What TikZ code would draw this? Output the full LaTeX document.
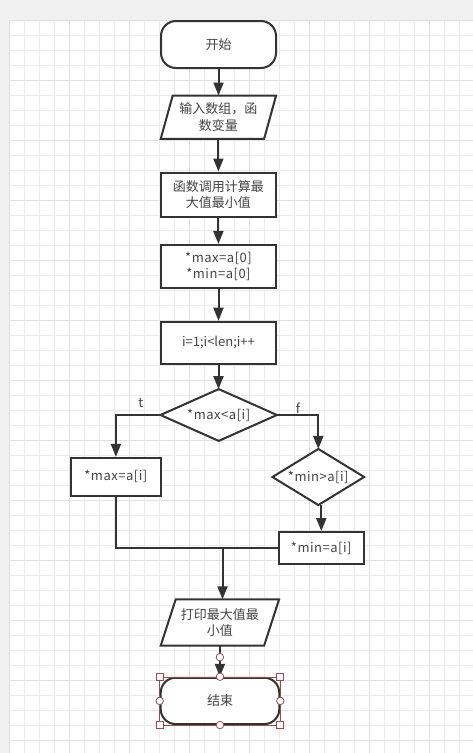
\documentclass[tikz,border=0pt]{standalone}
\usepackage{fontspec}
\setmainfont{Noto Sans CJK SC}
\newfontfamily\latn[LetterSpace=4]{Noto Sans CJK SC}
\usetikzlibrary{arrows.meta,calc}
\definecolor{ln}{HTML}{333333}
\definecolor{tx}{HTML}{444444}
\definecolor{bggray}{HTML}{F0F0F0}
\definecolor{gridminor}{HTML}{EBEBEB}
\definecolor{gridmajor}{HTML}{E0E0E0}
\definecolor{hdl}{HTML}{9E4A4A}
\pgfdeclarelayer{gridl}
\pgfdeclarelayer{shp}
\pgfsetlayers{gridl,shp,main}
\begin{document}
\begin{tikzpicture}[x=1pt,y=-1pt,
  base/.style={text=tx, font=\fontsize{13pt}{16.5pt}\selectfont, align=center, inner sep=0pt},
  lbase/.style={base, font=\fontsize{13pt}{16.5pt}\selectfont\latn},
  proc/.style={base, draw=ln, line width=2pt, fill=white},
  lproc/.style={proc, font=\fontsize{13pt}{16.5pt}\selectfont\latn},
  term/.style={proc, rounded corners=15pt},
  outline/.style={draw=ln, line width=2pt, fill=white},
  flow/.style={draw=ln, line width=2pt, -{Triangle[length=13pt,width=10pt]}},
  wire/.style={draw=ln, line width=2pt},
  hc/.style={circle, draw=hdl, fill=white, line width=0.8pt, minimum size=7.5pt, inner sep=0pt},
  hs/.style={rectangle, draw=hdl, fill=white, line width=0.8pt, minimum size=7pt, inner sep=0pt}]
\useasboundingbox (0,0) rectangle (473,753);
% background and grid
\begin{pgfonlayer}{gridl}
\fill[bggray] (0,0) rectangle (473,753);
\fill[white] (9.5,20) rectangle (473,753);
\foreach \i in {0,...,30} \draw[gridminor, line width=1pt] ({9.5+15*\i},20) -- ({9.5+15*\i},753);
\foreach \j in {0,...,48} \draw[gridminor, line width=1pt] (9.5,{20+15*\j}) -- (473,{20+15*\j});
\foreach \i in {0,...,7} \draw[gridmajor, line width=1pt] ({9.5+60*\i},20) -- ({9.5+60*\i},753);
\foreach \j in {0,...,12} \draw[gridmajor, line width=1pt] (9.5,{20+60*\j}) -- (473,{20+60*\j});
\end{pgfonlayer}

% nodes
\node[term, minimum width=115pt, minimum height=47pt] (start) at (218.5,44.5) {开始};
\node[base, minimum width=115pt, minimum height=43pt] (in1) at (218.4,117.2) {输入数组，函\\数变量};
\node[proc, minimum width=115pt, minimum height=44pt] (calc) at (218.4,194.5) {函数调用计算最\\大值最小值};
\node[lproc, minimum width=115pt, minimum height=42.7pt] (init) at (218.5,266.3) {*max=a[0]\\*min=a[0]};
\node[proc, minimum width=115pt, minimum height=42.6pt] (loop) at (218.5,343) {i=1;i<len;i++};
\node[lbase, minimum width=116pt, minimum height=51.4pt] (d1) at (218.7,415) {*max<a[i]};
\node[lproc, minimum width=90pt, minimum height=38pt] (maxset) at (115.9,476.9) {*max=a[i]};
\node[lbase, minimum width=91.3pt, minimum height=55.7pt] (d2) at (318.3,477) {*min>a[i]};
\node[lproc, minimum width=85.3pt, minimum height=32pt] (minset) at (321.3,548) {*min=a[i]};
\node[base, minimum width=118pt, minimum height=46pt] (out) at (219.9,622.5) {打印最大值最\\小值};
\node[term, minimum width=118.6pt, minimum height=46.3pt] (end) at (220,700.9) {结束};
\node[lbase] (lt) at (140.7,403.5) {t};
\node[lbase] (lf) at (298,408.5) {f};

% outlines of parallelograms and diamonds
\begin{pgfonlayer}{shp}
\draw[outline] ($(in1.north west)+(12,0)$) -- (in1.north east) -- ($(in1.south east)+(-12,0)$) -- (in1.south west) -- cycle;
\draw[outline] ($(out.north west)+(15,0)$) -- (out.north east) -- ($(out.south east)+(-15,0)$) -- (out.south west) -- cycle;
\draw[outline] (d1.north) -- (d1.east) -- (d1.south) -- (d1.west) -- cycle;
\draw[outline] (d2.north) -- (d2.east) -- (d2.south) -- (d2.west) -- cycle;
\end{pgfonlayer}

% connectors
\draw[flow] (start.south) -- (start.south |- in1.north);
\draw[flow] (in1.south) -- (in1.south |- calc.north);
\draw[flow] (calc.south) -- (calc.south |- init.north);
\draw[flow] (init.south) -- (init.south |- loop.north);
\draw[flow] (loop.south) -- (loop.south |- d1.north);
\draw[flow] (d1.west) -| (maxset.north);
\draw[flow] (d1.east) -| (d2.north);
\draw[flow] (minset.north |- d2.south) -- (minset.north);
\coordinate (merge) at (222.5,548);
\draw[wire] (maxset.south) |- (merge);
\draw[wire] (minset.west) -- (merge);
\draw[flow] (merge) -- (merge |- out.north);
\draw[flow] (out.south) -- (out.south |- end.north);

% selection handles
\draw[hdl, line width=0.5pt] (end.north west) rectangle (end.south east);
\node[hc] (hstart) at ($(out.south)!0.37!(out.south |- end.north)$) {};
\node[hs] (hnw) at (end.north west) {};
\node[hs] (hne) at (end.north east) {};
\node[hs] (hsw) at (end.south west) {};
\node[hs] (hse) at (end.south east) {};
\node[hc] (hn) at (end.north) {};
\node[hc] (hs) at (end.south) {};
\node[hc] (hw) at (end.west) {};
\node[hc] (he) at (end.east) {};
\end{tikzpicture}
\end{document}
